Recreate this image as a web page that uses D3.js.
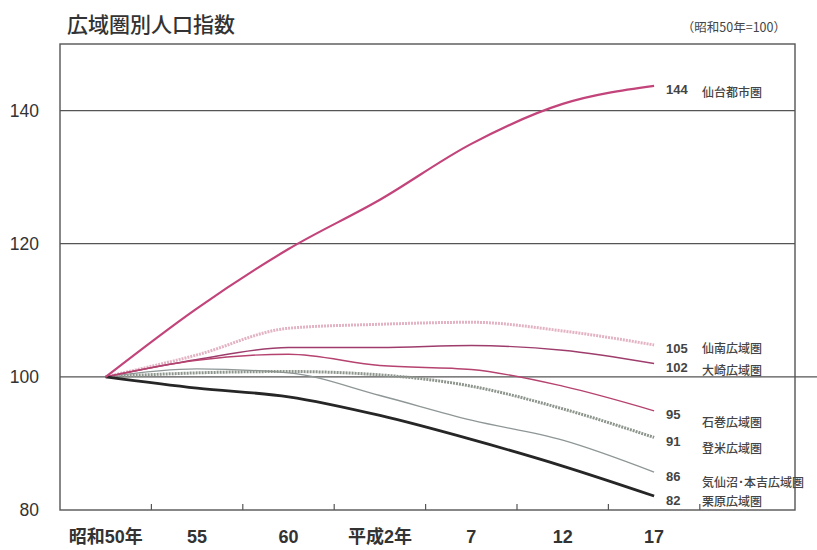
<!DOCTYPE html>
<html>
<head>
<meta charset="utf-8">
<script src="https://cdn.jsdelivr.net/npm/d3@7"></script>
<style>
  body { margin: 0; background: #fff; }
  svg { display: block; }
</style>
</head>
<body>
<div id="chart"></div>
<script>
// census years (x categories)
var categories = ["昭和50年", "55", "60", "平成2年", "7", "12", "17"];
var yTicks = [80, 100, 120, 140];

// population index, 昭和50年 = 100
var sendai   = [100, 110.3, 119.2, 126.6, 135.0, 141.0, 143.7];
var sennan   = [100, 103.3, 107.3, 107.9, 108.2, 106.9, 104.8];
var osaki    = [100, 102.6, 104.4, 104.4, 104.7, 104.0, 102.0];
var ishinomaki = [100, 102.5, 103.4, 101.7, 101.1, 98.6, 94.9];
var tome     = [100, 100.6, 100.8, 100.3, 98.6, 95.2, 90.9];
var kesennuma = [100, 101.2, 100.6, 97.2, 93.5, 90.5, 85.7];
var kurihara = [100, 98.3, 97.0, 94.2, 90.6, 86.6, 82.1];

var seriesNames = ["仙台都市圏", "仙南広域圏", "大崎広域圏", "石巻広域圏", "登米広域圏", "気仙沼･本吉広域圏", "栗原広域圏"];
var seriesValues = [sendai, sennan, osaki, ishinomaki, tome, kesennuma, kurihara];

// drawing styles, one per series
var styles = [
	{ color: "#c2447a", width: 2.2, dash: null,   nameShift: 3 },
	{ color: "#e3b3c4", width: 3,   dash: "2,1",  nameShift: 0 },
	{ color: "#9e3d6c", width: 1.4, dash: null,   nameShift: 3 },
	{ color: "#b5426f", width: 1.4, dash: null,   nameShift: 8 },
	{ color: "#8d958d", width: 3,   dash: "2,1",  nameShift: 7 },
	{ color: "#8e9696", width: 1.3, dash: null,   nameShift: 7 },
	{ color: "#262626", width: 2.8, dash: null,   nameShift: 2 }
];

var W = 817, H = 550;
var plot = { left: 60, right: 795, top: 44, bottom: 510 };

var svg = d3.select("#chart").append("svg")
	.attr("width", W)
	.attr("height", H);

var x = d3.scaleBand()
	.domain(categories)
	.range([plot.left, plot.left + 7 * 91.4]);

var y = d3.scaleLinear()
	.domain([80, 150])
	.range([plot.bottom, plot.top]);

var frameColor = "#555";
var numFont = "'Liberation Sans Narrow', 'Arial Narrow', 'Liberation Sans', 'Noto Sans CJK JP', sans-serif";
var jpFont = "'Noto Sans CJK JP', sans-serif";

// title
svg.append("text")
	.attr("x", 67)
	.attr("y", 32)
	.attr("font-family", jpFont)
	.attr("font-size", 21)
	.attr("font-weight", 500)
	.attr("fill", "#333")
	.text("広域圏別人口指数");

svg.append("text")
	.attr("x", 786)
	.attr("y", 32)
	.attr("text-anchor", "end")
	.attr("font-family", jpFont)
	.attr("font-size", 12.5)
	.attr("fill", "#444")
	.text("（昭和50年=100）");

// gridlines
svg.append("g").selectAll("line")
	.data([100, 120, 140])
	.enter().append("line")
		.attr("x1", plot.left)
		.attr("x2", function(d) { return d === 100 ? W : plot.right; })
		.attr("y1", function(d) { return y(d); })
		.attr("y2", function(d) { return y(d); })
		.attr("stroke", frameColor)
		.attr("stroke-width", 1.3);

// frame
svg.append("rect")
	.attr("x", plot.left)
	.attr("y", plot.top)
	.attr("width", plot.right - plot.left)
	.attr("height", plot.bottom - plot.top)
	.attr("fill", "none")
	.attr("stroke", frameColor)
	.attr("stroke-width", 1.4);

// y axis labels
var yAxis = svg.append("g")
	.attr("transform", "translate(" + plot.left + ",0)")
	.call(d3.axisLeft(y).tickValues(yTicks).tickSize(0).tickPadding(21));
yAxis.select(".domain").remove();
yAxis.selectAll("text")
	.attr("font-family", numFont)
	.attr("font-size", 17.5)
	.attr("fill", "#333");

// x axis labels
var xAxis = svg.append("g")
	.attr("transform", "translate(0," + plot.bottom + ")")
	.call(d3.axisBottom(x).tickSize(0).tickPadding(20));
xAxis.select(".domain").remove();
xAxis.selectAll("text")
	.attr("font-family", numFont)
	.attr("font-size", 18)
	.attr("font-weight", "bold")
	.attr("fill", "#333");

// x tick marks at band boundaries, pointing inward
svg.append("g").selectAll("line")
	.data(categories)
	.enter().append("line")
		.attr("x1", function(d) { return x(d) + x.bandwidth(); })
		.attr("x2", function(d) { return x(d) + x.bandwidth(); })
		.attr("y1", plot.bottom)
		.attr("y2", plot.bottom - 6)
		.attr("stroke", frameColor)
		.attr("stroke-width", 1.2);

// lines
var line = d3.line()
	.x(function(d, i) { return x(categories[i]) + x.bandwidth() / 2; })
	.y(function(d) { return y(d); })
	.curve(d3.curveMonotoneX);

var order = [5, 4, 1, 2, 3, 6, 0];
order.forEach(function(k) {
	svg.append("path")
		.datum(seriesValues[k])
		.attr("d", line)
		.attr("fill", "none")
		.attr("stroke", styles[k].color)
		.attr("stroke-width", styles[k].width)
		.attr("stroke-dasharray", styles[k].dash)
		.attr("stroke-linejoin", "round");
});

// end labels
var endX = x(categories[categories.length - 1]) + x.bandwidth() / 2;
var labels = svg.append("g");
seriesValues.forEach(function(vals, k) {
	var last = vals[vals.length - 1];
	var ly = y(last) + 4;
	labels.append("text")
		.attr("x", endX + 12)
		.attr("y", ly)
		.attr("dy", "0.35em")
		.attr("font-family", numFont)
		.attr("font-size", 13)
		.attr("font-weight", "bold")
		.attr("fill", "#444")
		.text(d3.format(".0f")(last));
	labels.append("text")
		.attr("x", endX + 48)
		.attr("y", ly + styles[k].nameShift)
		.attr("dy", "0.35em")
		.attr("font-family", jpFont)
		.attr("font-size", 12)
		.attr("font-weight", 500)
		.attr("fill", "#444")
		.text(seriesNames[k]);
});
</script>
</body>
</html>
